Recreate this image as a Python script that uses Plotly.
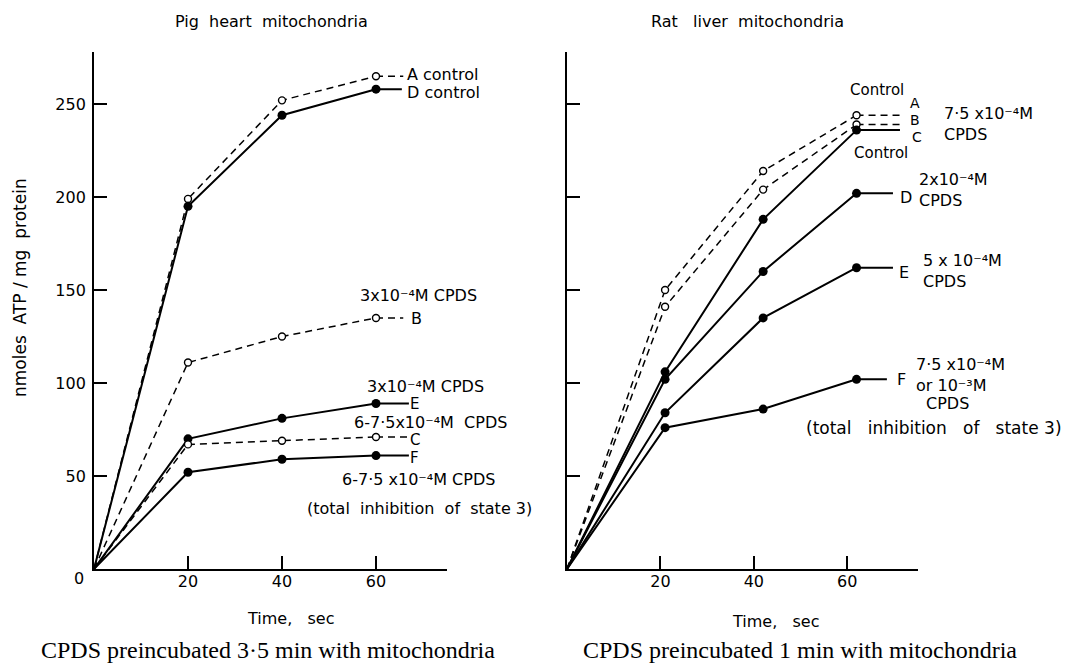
import plotly.graph_objects as go

# ---------------- data ----------------
# Pig heart mitochondria (CPDS preincubated 3.5 min)
pig_time = [0, 20, 40, 60]
pig_A = [0, 199, 252, 265]   # control, open
pig_D = [0, 195, 244, 258]   # control, filled
pig_B = [0, 111, 125, 135]   # 3x10-4 M CPDS, open
pig_E = [0, 70, 81, 89]      # 3x10-4 M CPDS, filled
pig_C = [0, 67, 69, 71]      # 6-7.5x10-4 M CPDS, open
pig_F = [0, 52, 59, 61]      # 6-7.5x10-4 M CPDS, filled

# Rat liver mitochondria (CPDS preincubated 1 min)
rat_time = [0, 21, 42, 62]
rat_A = [0, 150, 214, 244]   # control, open
rat_B = [0, 141, 204, 239]   # 7.5x10-4 M CPDS, open
rat_C = [0, 106, 188, 236]   # control, filled
rat_D = [0, 102, 160, 202]   # 2x10-4 M CPDS
rat_E = [0, 84, 135, 162]    # 5x10-4 M CPDS
rat_F = [0, 76, 86, 102]     # 7.5x10-4 or 10-3 M CPDS

y_ticks = [50, 100, 150, 200, 250]
x_ticks = [20, 40, 60]

W, H = 1071, 663
FONT = "DejaVu Sans"
SERIF = "Liberation Serif"

fig = go.Figure()

open_marker = dict(symbol="circle", size=7, color="white", line=dict(color="black", width=1.4))
filled_marker = dict(symbol="circle", size=9, color="black", line=dict(color="black", width=0))
dash_line = dict(color="black", width=1.5, dash="7px,5px")
solid_line = dict(color="black", width=2.0)


def series(t, v, kind, xa, ya, tail_end):
    line = dash_line if kind == "open" else solid_line
    marker = open_marker if kind == "open" else filled_marker
    # leader line to the label
    fig.add_trace(go.Scatter(x=[t[-1], tail_end], y=[v[-1], v[-1]], mode="lines",
                             line=line, xaxis=xa, yaxis=ya, showlegend=False, hoverinfo="skip"))
    fig.add_trace(go.Scatter(x=t, y=v, mode="lines", line=line,
                             xaxis=xa, yaxis=ya, showlegend=False))
    fig.add_trace(go.Scatter(x=t[1:], y=v[1:], mode="markers", marker=marker,
                             xaxis=xa, yaxis=ya, showlegend=False))


series(pig_time, pig_A, "open", "x", "y", 65.8)
series(pig_time, pig_D, "filled", "x", "y", 65.5)
series(pig_time, pig_B, "open", "x", "y", 65.8)
series(pig_time, pig_E, "filled", "x", "y", 67.0)
series(pig_time, pig_C, "open", "x", "y", 67.0)
series(pig_time, pig_F, "filled", "x", "y", 67.0)

series(rat_time, rat_A, "open", "x2", "y2", 71.3)
series(rat_time, rat_B, "open", "x2", "y2", 71.3)
series(rat_time, rat_C, "filled", "x2", "y2", 71.3)
series(rat_time, rat_D, "filled", "x2", "y2", 69.8)
series(rat_time, rat_E, "filled", "x2", "y2", 69.8)
series(rat_time, rat_F, "filled", "x2", "y2", 68.5)


def P(px, py):
    return px / W, 1 - py / H


ann = []


def txt(s, px, py, size=16, anchor="center", family=FONT, angle=0, align="center"):
    x, y = P(px, py)
    ann.append(dict(text=s, x=x, y=y, xref="paper", yref="paper", showarrow=False,
                    xanchor=anchor, yanchor="middle", textangle=angle, align=align,
                    borderpad=0,
                    font=dict(family=family, size=size, color="black")))


M4 = "10⁻⁴M"
# titles
txt("Pig  heart  mitochondria", 271, 22, 16)
txt("Rat   liver  mitochondria", 747, 21, 16)
txt("Time,   sec", 290, 618, 16)
txt("Time,   sec", 775, 621, 16)
txt("nmoles  ATP / mg  protein", 20, 288, 17, angle=-90)
txt("0", 79, 578, 16)
txt("CPDS preincubated 3·5 min with mitochondria", 268, 650, 24, family=SERIF)
txt("CPDS preincubated 1 min with mitochondria", 800, 650, 24, family=SERIF)

# left panel labels
txt("A control", 406, 74, 16, "left")
txt("D control", 406, 93, 16, "left")
txt("3x" + M4 + " CPDS", 418, 295, 16)
txt("B", 410, 318, 16, "left")
txt("3x" + M4 + " CPDS", 425, 386, 16)
txt("E", 409, 404, 15, "left")
txt("6-7·5x" + M4 + "  CPDS", 430, 422, 16)
txt("C", 409, 440, 15, "left")
txt("F", 409, 458, 15, "left")
txt("6-7·5 x" + M4 + " CPDS", 418, 479, 16)
txt("(total  inhibition  of  state 3)", 419, 508, 16)

# right panel labels
txt("Control", 877, 90, 15)
txt("A", 909, 103, 14, "left")
txt("B", 909, 120, 14, "left")
txt("C", 911, 137, 14, "left")
txt("7·5 x" + M4 + "<br>CPDS", 943, 124, 16, "left", align="left")
txt("Control", 881, 153, 15)
txt("D", 899, 197, 16, "left")
txt("2x" + M4 + "<br>CPDS", 918, 190, 16, "left", align="left")
txt("E", 898, 272, 16, "left")
txt("5 x " + M4 + "<br>CPDS", 922, 271, 16, "left", align="left")
txt("F", 896, 379, 16, "left")
txt("7·5 x" + M4 + "<br>or 10⁻³M", 915, 375, 16, "left", align="left")
txt("CPDS", 947, 404, 16)
txt("(total   inhibition   of   state 3)", 934, 428, 17)

ax_common = dict(showline=True, linecolor="black", linewidth=1.8, showgrid=False, zeroline=False,
                 ticks="inside", ticklen=13, tickwidth=1.6, tickcolor="black",
                 tickfont=dict(family=FONT, size=16, color="black"))

y_dom = [1 - 569 / H, 1 - 52 / H]
layout = dict(
    width=W, height=H, margin=dict(l=0, r=0, t=0, b=0),
    paper_bgcolor="white", plot_bgcolor="white", showlegend=False,
    xaxis=dict(domain=[94 / W, (94 + 75 * 4.7) / W], range=[0, 75], tickvals=x_ticks,
               ticktext=[str(v) for v in x_ticks], anchor="y", ticklabelstandoff=-3, **ax_common),
    yaxis=dict(domain=y_dom, range=[0, 278], tickvals=y_ticks,
               ticktext=[str(v) for v in y_ticks], anchor="x", ticklabelstandoff=3, **ax_common),
    xaxis2=dict(domain=[567 / W, (567 + 75.2 * 4.67) / W], range=[0, 75.2], tickvals=x_ticks,
                ticktext=[str(v) for v in x_ticks], anchor="y2", ticklabelstandoff=-3, **ax_common),
    yaxis2=dict(domain=y_dom, range=[0, 278], tickvals=y_ticks, showticklabels=False,
                anchor="x2", **ax_common),
    annotations=ann,
)
fig.update_layout(**layout)
fig.write_html("out.html")
